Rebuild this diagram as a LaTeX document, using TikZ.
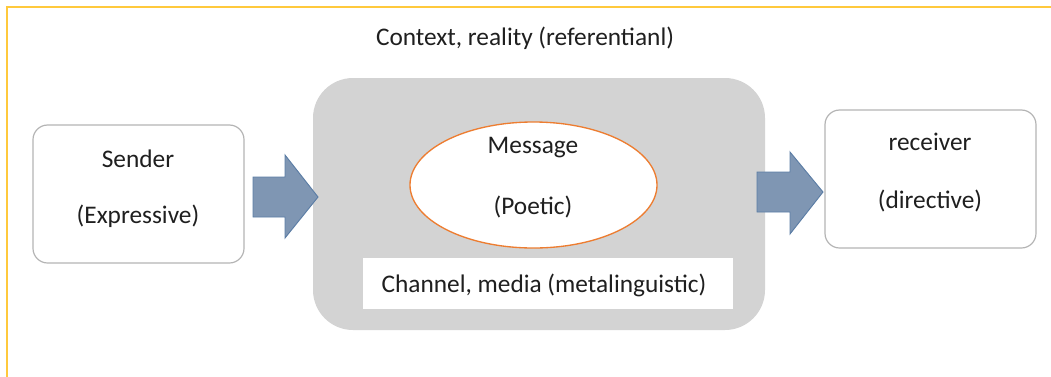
\documentclass[tikz,border=0pt]{standalone}
\usepackage{fontspec}
\setmainfont{Carlito}
\usetikzlibrary{shapes.geometric}
\definecolor{frameyellow}{HTML}{FFC93C}
\definecolor{boxgray}{HTML}{B4B4B4}
\definecolor{panelgray}{HTML}{D3D3D3}
\definecolor{arrowfill}{HTML}{7F96B3}
\definecolor{arrowedge}{HTML}{5B7DA5}
\definecolor{msgorange}{HTML}{ED7D31}
\definecolor{txt}{HTML}{1F1F1F}
\begin{document}
\begin{tikzpicture}[x=0.75pt,y=-0.75pt,
  every node/.style={text=txt, font=\fontsize{19}{23}\selectfont},
  endbox/.style={draw=boxgray, line width=0.9pt, fill=white, rounded corners=11pt, minimum width=158.25pt, minimum height=103.5pt, inner sep=0pt},
  blockarrow/.style={fill=arrowfill, draw=arrowedge, line width=0.7pt, line join=miter},
  lbl/.style={inner sep=0pt, anchor=center}]
\useasboundingbox (0,0) rectangle (1051,376);
\begin{scope}
  \clip (0,0) rectangle (1051,376);
  \draw[frameyellow, line width=2.2pt] (7,7) rectangle (1080,400);
\end{scope}
% context label
\node[lbl] (ctx) at (525,38) {Context, reality (referentianl)};
% central panel
\node[fill=panelgray, rounded corners=30pt, minimum width=339pt, minimum height=189pt, inner sep=0pt] (panel) at (539,204) {};
\node[ellipse, draw=msgorange, line width=1pt, fill=white, minimum width=185.25pt, minimum height=94.5pt, inner sep=0pt] (msg) at (533.5,185) {};
\node[lbl] (msg1) at (533,148) {Message};
\node[lbl] (msg2) at (533,207) {(Poetic)};
\node[fill=white, minimum width=277.5pt, minimum height=38.25pt, inner sep=0pt] (chan) at (548,283.5) {};
\node[lbl] (chant) at (544,285) {Channel, media (metalinguistic)};
% sender
\node[endbox] (sender) at (138.5,194) {};
\node[lbl] (snd1) at (138,159) {Sender};
\node[lbl] (snd2) at (138,216) {(Expressive)};
% receiver
\node[endbox] (receiver) at (930.5,179) {};
\node[lbl] (rcv1) at (930,142) {receiver};
\node[lbl] (rcv2) at (930,201) {(directive)};
% block arrows
\path[blockarrow] (253,177) -- (285,177) -- (285,155) -- (318,197) -- (285,238) -- (285,217) -- (253,217) -- cycle;
\path[blockarrow] (757,172) -- (790,172) -- (790,152) -- (823,192) -- (790,234) -- (790,212) -- (757,212) -- cycle;
\end{tikzpicture}
\end{document}
